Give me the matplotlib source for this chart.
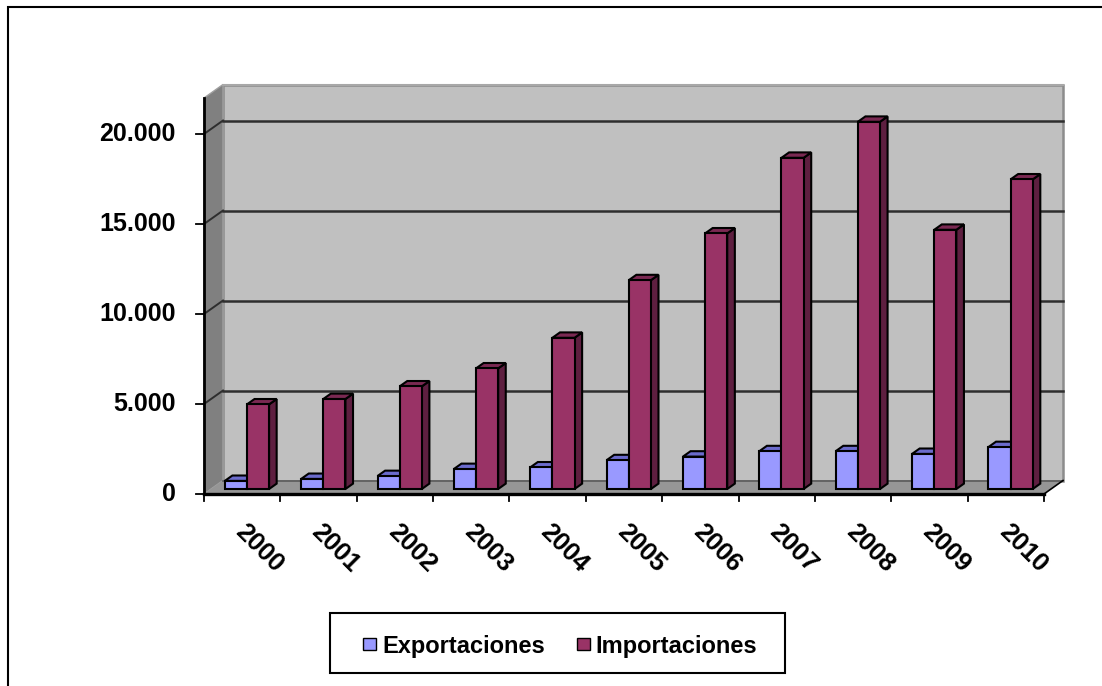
import matplotlib
matplotlib.use("Agg")
import matplotlib.pyplot as plt
from matplotlib.patches import Polygon, Rectangle

plt.rcParams['font.family'] = ['Liberation Sans', 'DejaVu Sans']

# ---- data -------------------------------------------------------------
years = ["2000", "2001", "2002", "2003", "2004", "2005",
         "2006", "2007", "2008", "2009", "2010"]
exportaciones = [450, 560, 720, 1110, 1200, 1600, 1800, 2100, 2100, 1950, 2330]
importaciones = [4700, 5000, 5700, 6700, 8400, 11600, 14200, 18400, 20400, 14400, 17200]
ytick_values = [0, 5000, 10000, 15000, 20000]
ytick_labels = ["0", "5.000", "10.000", "15.000", "20.000"]
series_names = ["Exportaciones", "Importaciones"]

# ---- styling ----------------------------------------------------------
W, H, DPI = 1102, 686, 100
exp_front, exp_top = "#9999FF", "#6B6BCC"
imp_front, imp_top, imp_side = "#993366", "#7A2952", "#5E1F40"
wall_back, wall_side, floor_col = "#C0C0C0", "#808080", "#969696"
grid_col = "#2E2E2E"
edge_lw = 1.5

fig = plt.figure(figsize=(W / DPI, H / DPI), dpi=DPI)
fig.patch.set_facecolor("white")

# plotting plane (front of the 3D box) in pixel layout
ax_l, ax_r, ax_b, ax_t = 204, 1044, 494, 98
ax = fig.add_axes([ax_l / W, (H - ax_b) / H, (ax_r - ax_l) / W, (ax_b - ax_t) / H])
n = len(years)
ymax = 22000
ax.set_xlim(0, n)
ax.set_ylim(0, ymax)
ax.axis("off")

px_x = (ax_r - ax_l) / n          # pixels per category
px_y = (ax_b - ax_t) / ymax       # pixels per unit value

# oblique depth of the box, converted to data units
DX = 19 / px_x
DY = 13.5 / px_y

# walls and floor
ax.add_patch(Rectangle((DX, DY), n, ymax, facecolor=wall_back,
                       edgecolor="#8C8C8C", lw=1.8, clip_on=False, zorder=1))
ax.plot([DX, n + DX], [ymax + DY, ymax + DY], color="#A8A8A8", lw=1.5,
        clip_on=False, zorder=1.5)
ax.add_patch(Polygon([(0, 0), (0, ymax), (DX, ymax + DY), (DX, DY)],
                     closed=True, facecolor=wall_side, edgecolor="#A0A0A0",
                     lw=1.0, clip_on=False, zorder=1))
ax.add_patch(Polygon([(0, 0), (n, 0), (n + DX, DY), (DX, DY)], closed=True,
                     facecolor=floor_col, edgecolor="none", clip_on=False, zorder=1))
ax.plot([DX, n + DX], [DY, DY], color="#5A5A5A", lw=1.2, clip_on=False, zorder=1.6)
ax.plot([n, n + DX], [0, DY], color="black", lw=1.2, clip_on=False, zorder=1.6)

# gridlines on back and side walls
for v in ytick_values[1:]:
    ax.plot([DX, n + DX], [v + DY, v + DY], color=grid_col, lw=1.8,
            clip_on=False, zorder=2)
    ax.plot([0, DX], [v, v + DY], color=grid_col, lw=1.4,
            clip_on=False, zorder=2)

# bars
plane = 0.37      # depth position of the bar fronts
bdepth = 0.40     # bar depth as fraction of the box depth
bx0, by0 = plane * DX, plane * DY
bdx, bdy = bdepth * DX, bdepth * DY
bw = 0.29
start = 0.18

xs = list(range(n))
exp_left = [x + start + bx0 for x in xs]
imp_left = [x + start + bw + bx0 for x in xs]

def bar_faces(left, val, top_col, side_col, z):
    right = left + bw
    top = by0 + val
    ax.add_patch(Polygon([(right, by0), (right, top), (right + bdx, top + bdy),
                          (right + bdx, by0 + bdy)], closed=True,
                         facecolor=side_col, edgecolor="black", lw=edge_lw,
                         clip_on=False, zorder=z))
    ax.add_patch(Polygon([(left, top), (right, top), (right + bdx, top + bdy),
                          (left + bdx, top + bdy)], closed=True,
                         facecolor=top_col, edgecolor="black", lw=edge_lw,
                         clip_on=False, zorder=z))

for i in xs:
    z = 3 + i * 0.1
    bar_faces(exp_left[i], exportaciones[i], exp_top, exp_top, z)
    ax.bar(exp_left[i], exportaciones[i], width=bw, bottom=by0, align="edge",
           color=exp_front, edgecolor="black", lw=edge_lw, clip_on=False, zorder=z + 0.01)
    bar_faces(imp_left[i], importaciones[i], imp_top, imp_side, z + 0.02)
    ax.bar(imp_left[i], importaciones[i], width=bw, bottom=by0, align="edge",
           color=imp_front, edgecolor="black", lw=edge_lw, clip_on=False, zorder=z + 0.03)

# front axes
ax.plot([0, 0], [0, ymax], color="black", lw=2.0, clip_on=False, zorder=5)
ax.plot([0, n], [0, 0], color="black", lw=2.4, clip_on=False, zorder=5)
for i in range(n + 1):
    ax.plot([i, i], [0, -7 / px_y], color="black", lw=1.3, clip_on=False, zorder=5)
for v, lab in zip(ytick_values, ytick_labels):
    ax.plot([-8 / px_x, 0], [v, v], color="black", lw=1.3, clip_on=False, zorder=5)
    ax.text(-28 / px_x, v, lab, ha="right", va="center", fontsize=18,
            fontweight="bold", color="black")

for i, yr in enumerate(years):
    ax.text(i + 0.5 + 17 / px_x, -54 / px_y, yr, rotation=-45,
            rotation_mode="anchor", ha="center", va="center",
            fontsize=18.5, fontweight="bold", color="black")

# outer frame
fig.add_artist(Rectangle((8 / W, -1), 2, (H - 7) / H + 1, transform=fig.transFigure,
                         fill=False, edgecolor="black", lw=1.5))

# legend
def fx(px):
    return px / W

def fy(py):
    return (H - py) / H

fig.add_artist(Rectangle((fx(330), fy(673)), fx(785) - fx(330), fy(613) - fy(673),
                         transform=fig.transFigure, fill=False,
                         edgecolor="black", lw=1.5))
for sq_x, txt_x, col, name in [(363, 382, exp_front, series_names[0]),
                               (577, 595, imp_front, series_names[1])]:
    fig.add_artist(Rectangle((fx(sq_x), fy(650)), fx(13), 12 / H,
                             transform=fig.transFigure, facecolor=col,
                             edgecolor="black", lw=1.0))
    fig.text(fx(txt_x), fy(653), name, ha="left", va="baseline", fontsize=17,
             fontweight="bold", color="black")

fig.savefig("out.png", dpi=DPI, facecolor="white")
